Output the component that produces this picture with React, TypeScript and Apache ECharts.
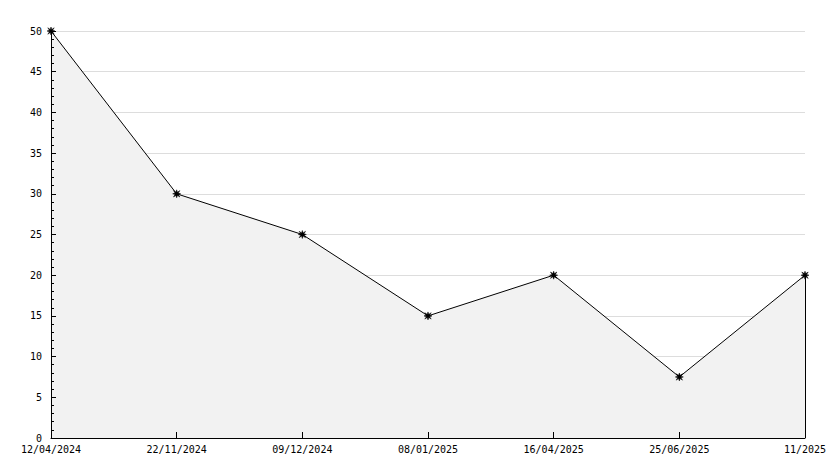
import React, { useEffect, useRef } from "react";
import * as echarts from "echarts";

const categories = ["12/04/2024", "22/11/2024", "09/12/2024", "08/01/2025", "16/04/2025", "25/06/2025", "11/2025"];
const values = [50, 30, 25, 15, 20, 7.5, 20];
const yMin = 0;
const yMax = 50;
const yInterval = 5;

const FONT = "DejaVu Sans Mono";
const STAR = "path://M5,0 L6,3 L9,1 L7,4 L10,5 L7,6 L9,9 L6,7 L5,10 L4,7 L1,9 L3,6 L0,5 L3,4 L1,1 L4,3 Z";

export default function App() {
  const ref = useRef<HTMLDivElement>(null);
  useEffect(() => {
    if (!ref.current) return;
    const chart = echarts.init(ref.current, null, { renderer: "svg" });
    const lastIdx = categories.length - 1;
    chart.setOption({
      animation: false,
      backgroundColor: "#ffffff",
      grid: { left: 51, right: 29, top: 31, bottom: 30, containLabel: false },
      xAxis: {
        type: "category",
        data: categories,
        boundaryGap: false,
        z: 10,
        axisLine: { lineStyle: { color: "#000", width: 1 } },
        axisTick: { show: true, inside: true, length: 6, lineStyle: { color: "#000" } },
        axisLabel: { color: "#000", fontFamily: FONT, fontSize: 10, margin: 6, interval: 0 },
        splitLine: { show: false },
      },
      yAxis: [
        {
          type: "value",
          min: yMin,
          max: yMax,
          interval: yInterval,
          z: 0,
          axisLine: { show: false },
          axisTick: { show: false },
          axisLabel: { show: false },
          splitLine: { show: true, lineStyle: { color: "#dddddd", width: 1 } },
        },
        {
          type: "value",
          position: "left",
          min: yMin,
          max: yMax,
          interval: yInterval,
          z: 10,
          axisLine: { show: true, lineStyle: { color: "#000", width: 1 } },
          axisTick: { show: true, inside: true, length: 5, lineStyle: { color: "#000" } },
          minorTick: { show: true, splitNumber: 5, length: 3, lineStyle: { color: "#000" } },
          axisLabel: { color: "#000", fontFamily: FONT, fontSize: 10, margin: 9 },
          splitLine: { show: false },
        },
      ],
      series: [
        {
          type: "line",
          yAxisIndex: 0,
          z: 5,
          data: values,
          symbol: STAR,
          symbolSize: 8,
          itemStyle: { color: "#000", borderColor: "#000", borderWidth: 0.5 },
          lineStyle: { color: "#000", width: 1 },
          areaStyle: { color: "#f2f2f2", opacity: 1 },
          markLine: {
            silent: true,
            symbol: "none",
            label: { show: false },
            lineStyle: { color: "#000", width: 1, type: "solid" },
            data: [[{ coord: [lastIdx, yMin] }, { coord: [lastIdx, values[lastIdx]] }]],
          },
        },
      ],
    });
    return () => chart.dispose();
  }, []);
  return <div ref={ref} style={{ width: 834, height: 468, position: "absolute", left: 0, top: 0 }} />;
}
